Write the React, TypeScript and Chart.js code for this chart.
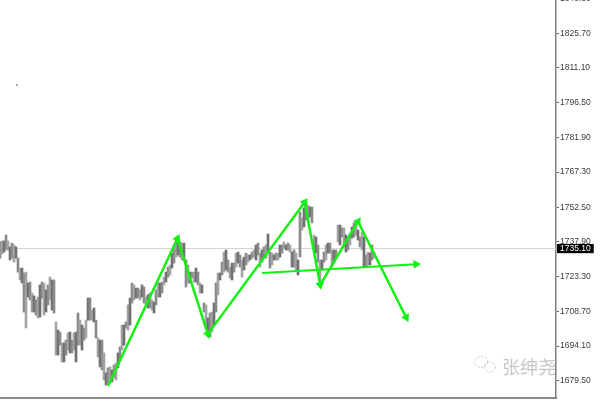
import React, { useEffect, useRef } from "react";
import { Chart, registerables } from "chart.js";

Chart.register(...registerables);

const barHighs = [
  1737.9, 1738.3, 1738.3, 1740.8, 1738.3, 1735.8, 1737.4, 1736.6, 1735.8, 1731.1, 1726.9, 1726.9, 1724.8, 1725.2, 1720.6, 1721,
  1716.4, 1715.2, 1713.5, 1714.7, 1719.8, 1721, 1720.6, 1717.7, 1719.8, 1723.1, 1721.9, 1721.9, 1704.2, 1700.8, 1700, 1695.4,
  1695.4, 1696.6, 1699.6, 1700, 1696.6, 1699.6, 1700, 1708, 1705, 1702.9, 1701.7, 1705, 1714.3, 1714.3, 1709.2, 1710.1,
  1705, 1697.5, 1696.6, 1696.6, 1691.2, 1682.8, 1684.9, 1685.3, 1684, 1686.1, 1687, 1691.2, 1693.7, 1702.9, 1702.9, 1704.2,
  1711.4, 1714.3, 1720.6, 1719.8, 1718.5, 1718.5, 1717.7, 1719.8, 1718.9, 1714.7, 1715.6, 1716.4, 1713.5, 1712.6, 1717.7, 1721,
  1720.6, 1721, 1723.1, 1725.2, 1727.3, 1728.2, 1733.2, 1736.6, 1738.7, 1739.5, 1737.9, 1737.4, 1737.4, 1730.3, 1728.2, 1725.2,
  1725.2, 1725.2, 1726.9, 1725.2, 1720.6, 1719.8, 1712.2, 1711.4, 1705.9, 1708, 1708.4, 1712.2, 1720.6, 1724.8, 1724.8, 1729.4,
  1733.6, 1734.5, 1730.3, 1727.3, 1729, 1729, 1733.2, 1733.6, 1732.4, 1730.3, 1731.5, 1733.2, 1732.4, 1732.4, 1733.6, 1734.5,
  1736.6, 1737.4, 1733.2, 1734.5, 1735.8, 1736.6, 1741.2, 1733.6, 1733.2, 1732.4, 1733.2, 1733.2, 1736.6, 1736.6, 1737.9, 1736.6,
  1737.4, 1736.6, 1733.6, 1734.5, 1733.2, 1730.3, 1750.5, 1748, 1752.2, 1754.3, 1753.4, 1752.6, 1752.6, 1740.8, 1740, 1736.6,
  1730.3, 1730.3, 1733.6, 1736.6, 1737.4, 1737.4, 1734.5, 1734.5, 1734.5, 1745, 1745, 1743.8, 1743.8, 1740.8, 1738.7, 1741.6,
  1744.2, 1745.9, 1747.1, 1742.9, 1740, 1742.1, 1740, 1732.4, 1733.6, 1733.2, 1736.6, 1733.6,
];

const barLows = [
  1731.1, 1732.8, 1733.6, 1734.5, 1734.5, 1730.3, 1731.1, 1729.4, 1731.1, 1725.2, 1721.9, 1720.6, 1708.4, 1701.7, 1714.7, 1713.5,
  1708.4, 1708.4, 1707.1, 1705.9, 1706.3, 1714.3, 1707.1, 1708.4, 1711.4, 1713.5, 1709.2, 1708, 1690.3, 1690.3, 1694.5, 1687.4,
  1687.4, 1690.3, 1692.4, 1691.2, 1691.2, 1692.4, 1687.4, 1694.5, 1694.5, 1692.4, 1696.6, 1697.5, 1705, 1705, 1705, 1704.2,
  1697.5, 1689.5, 1685.3, 1684, 1679.8, 1677.7, 1678.5, 1679, 1679, 1680.7, 1679.8, 1684.9, 1688.2, 1692.4, 1694.5, 1701.7,
  1700.8, 1702.9, 1712.2, 1713.5, 1714.3, 1714.3, 1713.5, 1714.7, 1712.2, 1711.4, 1710.1, 1710.1, 1709.2, 1708, 1711.4, 1714.7,
  1714.7, 1716.4, 1719.8, 1721, 1723.1, 1724, 1726.9, 1729, 1731.5, 1732.4, 1731.5, 1730.3, 1730.3, 1718.9, 1720.6, 1720.6,
  1722.7, 1721, 1721, 1719.8, 1716.4, 1716.4, 1708.4, 1701.7, 1699.6, 1697.9, 1700, 1702.9, 1708.4, 1715.6, 1721.9, 1724,
  1725.2, 1726.1, 1725.2, 1722.7, 1721.9, 1725.2, 1727.3, 1729, 1727.3, 1723.1, 1726.1, 1728.2, 1729.4, 1730.3, 1731.1, 1731.5,
  1730.3, 1732.4, 1727.3, 1729.4, 1731.5, 1731.1, 1733.2, 1726.9, 1728.2, 1730.3, 1730.3, 1730.3, 1731.5, 1733.2, 1735.3, 1734.5,
  1734.5, 1733.6, 1727.3, 1727.3, 1726.1, 1724, 1731.5, 1742.9, 1744.2, 1747.1, 1746.3, 1748.4, 1745.9, 1734.5, 1733.2, 1729.4,
  1721, 1726.1, 1729.4, 1730.3, 1733.2, 1733.2, 1727.3, 1729, 1731.1, 1737.9, 1736.6, 1740, 1735.8, 1733.6, 1734.5, 1736.6,
  1739.5, 1740, 1740.8, 1738.7, 1735.8, 1734.5, 1727.3, 1727.3, 1728.2, 1728.2, 1730.3, 1731.1,
];

const zigzagBars = [54, 88.7, 103.9, 152.3, 160.1, 179, 203.1];
const zigzagPrices = [1677.3, 1739.3, 1699.1, 1754.6, 1719.8, 1746.5, 1706.1];
const necklineBars = [131, 208];
const necklinePrices = [1724.8, 1728.5];
const specBars = [8.5];
const specPrices = [1803.9];

const currentPrice = 1735.1;
const tickValues = [1840.3, 1825.7, 1811.1, 1796.5, 1781.9, 1767.3, 1752.5, 1737.9, 1723.3, 1708.7, 1694.1, 1679.5];
const priceMin = 1672.23;
const priceMax = 1843.89;
const barAxisMax = 278;

const watermark = "张绅尧";

const arrowRotation = (ctx: any) => {
  const ds = ctx.dataset.data;
  const i = ctx.dataIndex;
  if (i === 0) return 0;
  const sx = ctx.chart.scales.x;
  const sy = ctx.chart.scales.y;
  const dx = sx.getPixelForValue(ds[i].x) - sx.getPixelForValue(ds[i - 1].x);
  const dy = sy.getPixelForValue(ds[i].y) - sy.getPixelForValue(ds[i - 1].y);
  return (Math.atan2(dy, dx) * 180) / Math.PI + 90;
};

const watermarkPlugin = {
  id: "watermark",
  afterDatasetsDraw(chart: any) {
    const { ctx, chartArea } = chart;
    ctx.save();
    ctx.beginPath();
    ctx.rect(0, 0, chartArea.right - 1, chartArea.bottom);
    ctx.clip();
    ctx.fillStyle = "#c6c6c6";
    ctx.font = '18px "Noto Sans CJK SC"';
    ctx.textAlign = "left";
    ctx.textBaseline = "middle";
    ctx.fillText(watermark, chartArea.right - 54, 377);
    ctx.strokeStyle = "#c8c8c8";
    ctx.lineWidth = 1;
    ctx.setLineDash([2, 1.5]);
    ctx.beginPath();
    ctx.ellipse(chartArea.right - 75, 372, 6.5, 5.5, 0, 0, Math.PI * 2);
    ctx.stroke();
    ctx.beginPath();
    ctx.ellipse(chartArea.right - 66, 377, 5.5, 5, 0, 0, Math.PI * 2);
    ctx.stroke();
    ctx.restore();
  },
};

export default function App() {
  const ref = useRef<HTMLCanvasElement | null>(null);

  useEffect(() => {
    if (!ref.current) return;
    const chart = new Chart(ref.current, {
      data: {
        datasets: [
          {
            type: "line",
            order: 4,
            data: [
              { x: 0, y: currentPrice },
              { x: barAxisMax, y: currentPrice },
            ],
            borderColor: "#d4d4d4",
            borderWidth: 1,
            pointRadius: 0,
          },
          {
            type: "bar",
            order: 3,
            data: barHighs.map((h, i) => ({ x: i, y: [barLows[i], h] })),
            backgroundColor: barHighs.map((_, i) => (i % 3 === 1 ? "#a4a4a4" : i % 3 === 2 ? "#707070" : "#8a8a8a")),
            barThickness: 2,
            borderWidth: 0,
          },
          {
            type: "line",
            order: 2,
            data: specBars.map((x, i) => ({ x, y: specPrices[i] })),
            showLine: false,
            pointRadius: 0.8,
            pointBackgroundColor: "#444",
            pointBorderWidth: 0,
          },
          {
            type: "line",
            order: 1,
            data: necklineBars.map((x, i) => ({ x, y: necklinePrices[i] })),
            borderColor: "#12f012",
            borderWidth: 2,
            pointStyle: "triangle",
            pointRadius: (c: any) => (c.dataIndex === 0 ? 0 : 5),
            pointRotation: arrowRotation,
            pointBackgroundColor: "#12f012",
            pointBorderColor: "#12f012",
            pointBorderWidth: 0,
          },
          {
            type: "line",
            order: 0,
            data: zigzagBars.map((x, i) => ({ x, y: zigzagPrices[i] })),
            borderColor: "#12f012",
            borderWidth: 2.5,
            pointStyle: "triangle",
            pointRadius: (c: any) => (c.dataIndex === 0 ? 0 : 5),
            pointRotation: arrowRotation,
            pointBackgroundColor: "#12f012",
            pointBorderColor: "#12f012",
            pointBorderWidth: 0,
          },
        ],
      } as any,
      plugins: [watermarkPlugin],
      options: {
        animation: false,
        responsive: false,
        layout: { autoPadding: false, padding: { left: 0, right: 0, top: 0, bottom: 12 } },
        plugins: { legend: { display: false }, tooltip: { enabled: false }, title: { display: false } },
        scales: {
          x: {
            type: "linear",
            offset: false,
            min: 0,
            max: barAxisMax,
            ticks: { display: false },
            grid: { display: false, offset: false },
            border: { display: true, color: "#8a8a8a", width: 2 },
            afterFit(scale: any) {
              scale.paddingLeft = 0;
              scale.paddingRight = 0;
              scale.height = 0;
            },
          },
          y: {
            type: "linear",
            position: "right",
            min: priceMin,
            max: priceMax,
            afterBuildTicks(scale: any) {
              scale.ticks = [...tickValues, currentPrice].map((value) => ({ value }));
            },
            afterFit(scale: any) {
              scale.width = 44;
              scale.paddingTop = 0;
              scale.paddingBottom = 0;
            },
            ticks: {
              autoSkip: false,
              padding: 1,
              font: { family: '"Liberation Sans"', size: 8.5 },
              color: (c: any) => (c.tick?.value === currentPrice ? "#ffffff" : "#3a3a3a"),
              showLabelBackdrop: (c: any) => c.tick?.value === currentPrice,
              backdropColor: "#000000",
              backdropPadding: { top: -0.5, bottom: -0.5, left: 3, right: 3 },
              callback: (v: any) => Number(v).toFixed(2),
            },
            grid: { drawOnChartArea: false, tickLength: 3, tickColor: "#666", tickWidth: 1 },
            border: { display: true, color: "#808080", width: 1.5 },
          },
        },
      } as any,
    });
    return () => chart.destroy();
  }, []);

  return (
    <div style={{ position: "fixed", left: 0, top: 0, width: 600, height: 400, overflow: "hidden", background: "#fff" }}>
      <canvas
        ref={ref}
        width={600}
        height={420}
        style={{ position: "absolute", left: 0, top: -10, width: 600, height: 420, filter: "blur(0.4px)" }}
      />
    </div>
  );
}
